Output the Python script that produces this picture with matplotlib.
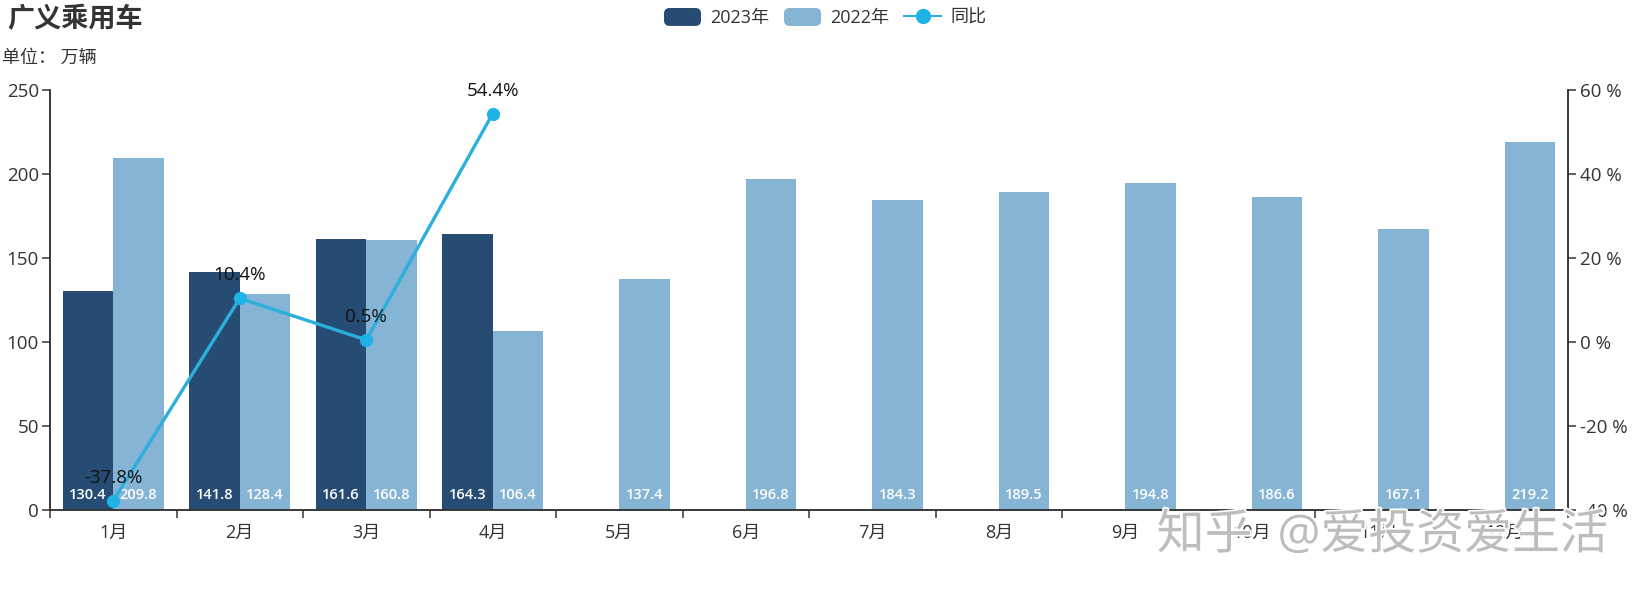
import matplotlib
matplotlib.use('Agg')
import matplotlib.pyplot as plt
import matplotlib.patheffects as pe
from matplotlib.legend_handler import HandlerPatch
from matplotlib.lines import Line2D
from matplotlib.patches import FancyBboxPatch, Rectangle
import numpy as np

plt.rcParams['font.family'] = ['Open Sans', 'Noto Sans CJK SC', 'DejaVu Sans']

months = ['1月', '2月', '3月', '4月', '5月', '6月', '7月', '8月', '9月', '10月', '11月', '12月']
sales_2023 = [130.4, 141.8, 161.6, 164.3]
sales_2022 = [209.8, 128.4, 160.8, 106.4, 137.4, 196.8, 184.3, 189.5, 194.8, 186.6, 167.1, 219.2]
yoy = [-37.8, 10.4, 0.5, 54.4]
left_ticks = [0, 50, 100, 150, 200, 250]
right_ticks = [-40, -20, 0, 20, 40, 60]

DARK = '#264c73'
LIGHT = '#85b4d4'
CYAN = '#1fb2e6'
LINE = '#2bb0dc'
AXIS = '#333333'
W, H = 1650, 600


class RoundSwatch(HandlerPatch):
    def create_artists(self, legend, orig, xdescent, ydescent, width, height, fontsize, trans):
        p = FancyBboxPatch((-xdescent, -ydescent), width, height,
                           boxstyle='round,pad=0,rounding_size=4',
                           facecolor=orig.get_facecolor(), edgecolor='none', transform=trans)
        return [p]


fig = plt.figure(figsize=(W / 100, H / 100), dpi=100)
ax = fig.add_axes([50 / W, 1 - 510 / H, (1568 - 50) / W, (510 - 90) / H])
ax2 = ax.twinx()

x = np.arange(len(months))
n23 = len(sales_2023)
bar_w = 0.4
b23 = ax.bar(x[:n23] - bar_w / 2, sales_2023, bar_w, color=DARK, label='2023年')
b22 = ax.bar(x + bar_w / 2, sales_2022, bar_w, color=LIGHT, label='2022年')

for bars, vals in [(b23, sales_2023), (b22, sales_2022)]:
    for r, v in zip(bars, vals):
        ax.annotate('%.1f' % v, (r.get_x() + r.get_width() / 2, 0), xytext=(0, 15),
                    textcoords='offset pixels', ha='center', va='center',
                    color='white', fontsize=10.5, fontweight='semibold')

ax2.plot(x[:n23], yoy, '-', color=LINE, lw=2.4, clip_on=False)
ax2.plot(x[:n23], yoy, 'o', color=CYAN, ms=8.5, clip_on=False)
for xi, v in zip(x, yoy):
    ax2.annotate('%.1f%%' % v, (xi, v), xytext=(0, 23), textcoords='offset pixels',
                 ha='center', va='center', color='#111111', fontsize=13.5)

ax.set_xlim(-0.5, 11.5)
ax.set_ylim(0, 250)
ax2.set_ylim(-40, 60)
ax.set_xticks(x, months)
ax.set_xticks(np.arange(-0.5, 12), minor=True)
ax.set_yticks(left_ticks)
ax2.set_yticks(right_ticks, ['%d %%' % t for t in right_ticks])

ax.tick_params(axis='x', which='major', length=0, pad=10, labelsize=13, labelcolor=AXIS)
ax.tick_params(axis='x', which='minor', length=6, width=1.1, color=AXIS)
ax.tick_params(axis='y', length=6, width=1.1, color=AXIS, pad=2, labelsize=13.5, labelcolor=AXIS)
ax2.tick_params(axis='y', length=6, width=1.1, color=AXIS, pad=3, labelsize=13.5, labelcolor=AXIS)
for a in (ax, ax2):
    a.spines['top'].set_visible(False)
    for s in ('left', 'right', 'bottom'):
        a.spines[s].set_color(AXIS)
        a.spines[s].set_linewidth(1.1)

fig.text(7 / W, 1 - 20 / H, '广义乘用车', fontsize=19.5, fontweight='bold', color=AXIS, va='center')
fig.text(2 / W, 1 - 58 / H, '单位： 万辆', fontsize=13, color=AXIS, va='center')

line_key = Line2D([], [], color=LINE, lw=1.5, marker='o', ms=10, mfc=CYAN, mec=CYAN)
fig.legend([b23[0], b22[0], line_key], ['2023年', '2022年', '同比'], ncol=3, frameon=False,
           loc='upper left', bbox_to_anchor=(664 / W, 1 - 8 / H), fontsize=13,
           labelcolor=AXIS, handlelength=2.05, handleheight=1.15, handletextpad=0.5,
           columnspacing=0.83, borderpad=0, borderaxespad=0,
           handler_map={Rectangle: RoundSwatch()})

fig.text(1382 / W, 1 - 536 / H, '知乎  @爱投资爱生活', fontsize=34.5, fontweight='medium', color='#bdbdbd',
         ha='center', va='center', zorder=20,
         path_effects=[pe.withStroke(linewidth=2.5, foreground='white')])

fig.savefig('out.png', dpi=100)
